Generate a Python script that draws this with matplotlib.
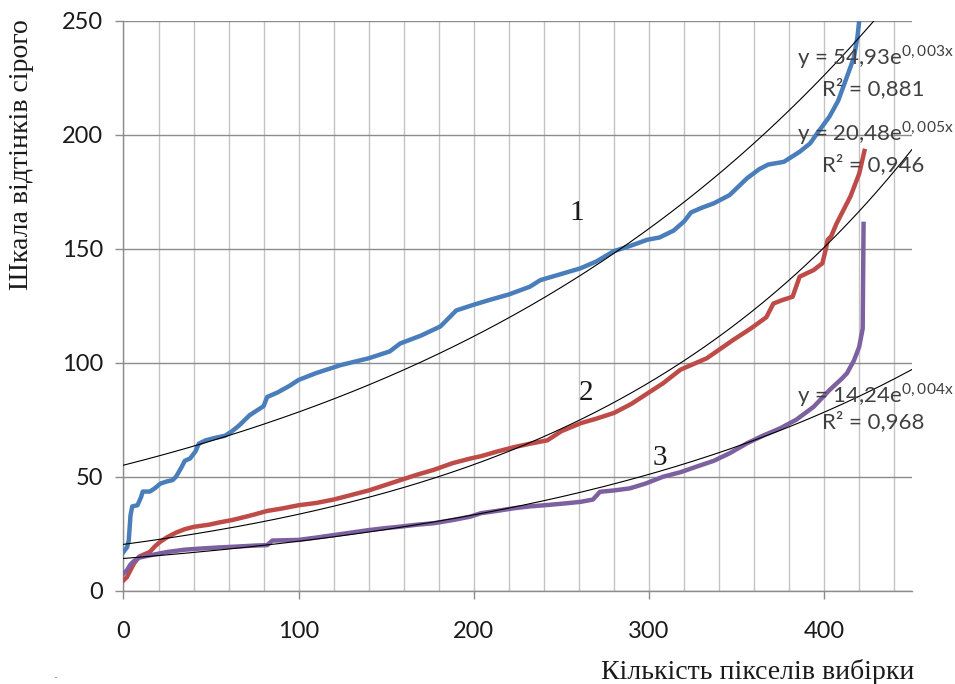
import numpy as np
import matplotlib
matplotlib.use("Agg")
import matplotlib.pyplot as plt
from matplotlib.ticker import MultipleLocator

# ---- data ----
x1 = [0, 2, 3, 4, 5, 8, 10, 11, 15, 18, 21, 25, 28, 30, 33, 35, 38, 41, 43, 47, 52, 58, 62, 66,
      72, 77, 80, 82, 88, 95, 100, 110, 124, 140, 152, 158, 170, 181, 190, 200, 209, 220, 232,
      238, 250, 261, 270, 280, 290, 299, 306, 314, 320, 324, 330, 337, 346, 356, 363, 368, 377,
      386, 392, 396, 403, 408, 413, 417, 419, 420, 422]
y1 = [17, 19, 22, 33, 37, 37.5, 41, 43.5, 43.5, 45, 47, 48, 48.5, 50, 54, 57, 58, 61, 64.5, 66,
      67, 68, 70, 72.5, 77, 79.5, 81, 85, 87, 90, 92.5, 95.5, 99, 102, 105, 108.5, 112, 116,
      123, 125.5, 127.6, 130, 133.4, 136.3, 139, 141.5, 144.5, 149, 151.5, 154, 155, 158, 162,
      166, 168, 170, 173.6, 181, 185, 187, 188.2, 192.6, 196.3, 200.7, 208, 215, 225.5, 234,
      243, 250, 256]

x2 = [0, 2, 4, 6, 9, 12, 15, 18, 21, 25, 30, 35, 40, 49, 55, 62, 70, 75, 82, 90, 100, 110, 120,
      130, 140, 150, 158, 168, 177, 188, 198, 204, 213, 223, 232, 242, 250, 261, 270, 280, 290,
      299, 308, 318, 327, 333, 348, 358, 367, 371, 376, 382, 386, 394, 399, 401, 402, 404,
      407, 415, 420, 423]
y2 = [4.5, 6, 9, 12, 15, 16, 17, 19.5, 21.5, 23.5, 25.5, 27, 28, 29, 30, 31, 32.5, 33.5, 35, 36,
      37.5, 38.5, 40, 42, 44, 46.5, 48.5, 51, 53, 56, 58, 59, 61, 63, 64.5, 66, 70, 73.5, 75.5,
      78, 82, 86.5, 91, 97, 100, 102, 110, 115, 120, 126, 127.5, 129, 137.8, 140.7, 143.7, 150,
      154, 155.5, 161, 173, 183, 193]

x3 = [0, 2, 4, 6, 9, 15, 25, 35, 44, 55, 63, 75, 82, 85, 100, 110, 120, 130, 140, 150, 158, 168,
      177, 188, 198, 204, 213, 223, 232, 242, 252, 261, 268, 272, 280, 289, 298, 308, 318, 327,
      337, 346, 356, 365, 375, 384, 394, 403, 410, 413, 417, 420, 421.5, 422, 422.5]
y3 = [7.5, 9, 11.5, 13, 14.5, 15.5, 17, 18, 18.5, 19, 19.3, 19.8, 20, 22, 22.3, 23.3, 24.4, 25.5,
      26.6, 27.5, 28.1, 29, 29.6, 31, 32.5, 34, 35, 36.2, 37, 37.6, 38.3, 39, 40, 43.4, 44, 44.9,
      47, 50, 52, 54.4, 57, 60.3, 64.7, 68, 71.3, 75, 80.7, 88, 93, 95.4, 101, 107, 113, 115, 161]

series_labels = ["1", "2", "3"]
equations = ["54,93", "20,48", "14,24"]
exponents = ["0,003x", "0,005x", "0,004x"]
r2_values = ["0,881", "0,946", "0,968"]

xlabel = "Кількість пікселів вибірки"
ylabel = "Шкала відтінків сірого"

colors = ["#4a7ebb", "#be4b48", "#7d60a0"]

# ---- figure ----
plt.rcParams['mathtext.fontset'] = 'custom'
plt.rcParams['mathtext.rm'] = 'Lato'

fig = plt.figure(figsize=(9.55, 6.84), dpi=100)
ax = fig.add_axes([0.1293, 0.1364, 0.8254, 0.8329])
ax.set_xlim(0, 450)
ax.set_ylim(0, 250)

xfit = np.linspace(0, 450, 400)
for xs, ys, c in zip([x1, x2, x3], [y1, y2, y3], colors):
    ax.plot(xs, ys, color=c, lw=3.2, solid_joinstyle='round', zorder=3)
    xi = np.arange(0, int(max(xs)) + 1)
    yi = np.interp(xi, xs, ys)
    b, lna = np.polyfit(xi, np.log(yi), 1)
    ax.plot(xfit, np.exp(lna) * np.exp(b * xfit), color='black', lw=0.8, zorder=4)

# grids
ax.xaxis.set_major_locator(MultipleLocator(100))
ax.xaxis.set_minor_locator(MultipleLocator(20))
ax.yaxis.set_major_locator(MultipleLocator(50))
ax.grid(True, which='both', axis='x', color='#c4c4c4', lw=1.0, zorder=0)
ax.grid(True, which='major', axis='y', color='#8c8c8c', lw=1.0, zorder=0)
ax.set_axisbelow(True)

for s in ['top', 'right']:
    ax.spines[s].set_visible(False)
for s in ['left', 'bottom']:
    ax.spines[s].set_color('#8c8c8c')
    ax.spines[s].set_linewidth(1.0)

ax.tick_params(axis='both', which='major', direction='out', length=5.5, width=1.0,
               color='#8c8c8c', labelsize=17, labelcolor='#1a1a1a')
ax.tick_params(axis='x', which='major', pad=16)
ax.tick_params(axis='y', which='major', pad=9)
ax.tick_params(axis='x', which='minor', length=0)
for lab in ax.get_xticklabels() + ax.get_yticklabels():
    lab.set_fontfamily('Lato')

ax.set_ylabel(ylabel, family='Liberation Serif', fontsize=20, color='#1a1a1a', va='center')
ax.yaxis.set_label_coords(-0.129, 0.765)
ax.set_xlabel(xlabel, family='Liberation Serif', fontsize=20, color='#1a1a1a', va='center')
ax.xaxis.set_label_coords(0.804, -0.142)

# series number labels
for lab, (lx, ly) in zip(series_labels, [(258.8, 165.6), (264, 86.7), (306.4, 58.2)]):
    ax.text(lx, ly, lab, family='Liberation Serif', fontsize=21, ha='center', va='center',
            color='#1a1a1a', zorder=6)

# equation labels
eq_pos = [(384.5, 234.3, 220.5), (384.5, 201.0, 186.8), (384.5, 85.8, 74.3)]
for eqa, ex, r2, (ex0, ey, ry) in zip(equations, exponents, r2_values, eq_pos):
    ax.text(ex0, ey, "y = " + eqa + "e$^{\\mathregular{" + ex + "}}$", family='Lato',
            fontsize=16, color='#404040', ha='left', va='center', zorder=6)
    ax.text(ex0 + 14.3, ry, "R² = " + r2, family='Lato', fontsize=16, color='#404040',
            ha='left', va='center', zorder=6)

fig.text(55 / 955, 1 - 677 / 684, "-", fontsize=8, color='#999999', ha='center', va='center')

fig.savefig("out.png", dpi=100)
